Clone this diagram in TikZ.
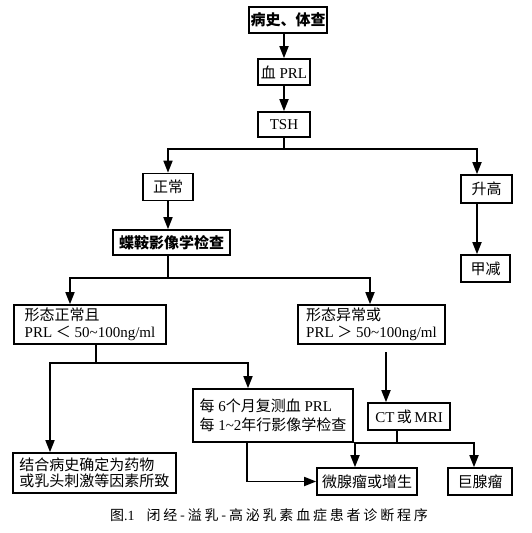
\documentclass[tikz,border=0pt]{standalone}
\usepackage{fontspec}
\setmainfont{Liberation Serif}
\newfontfamily\cjk{Noto Sans CJK SC}
\newfontfamily\cjkcap{Noto Sans CJK SC}[LetterSpace=20]
\usetikzlibrary{arrows.meta}

\newcommand{\zh}[1]{{\cjk #1}}

\tikzset{
  box/.style={draw, line width=1.7pt, inner sep=0pt, align=left,
    font=\fontsize{15}{16.5}\selectfont},
  boldbox/.style={box, font=\fontsize{15}{17}\selectfont\cjk\bfseries},
  ln/.style={line width=1.7pt},
  arr/.style={ln, -{Triangle[length=12pt,width=9pt]}}
}

\begin{document}
\begin{tikzpicture}[x=1pt, y=-1pt]
  \useasboundingbox (0,0) rectangle (531,533);
  % boxes
  \node[boldbox, minimum width=78pt, minimum height=26pt] (hist) at (288,20) {病史、体查};
  \node[box, minimum width=52pt, minimum height=26pt] (prl) at (284,72) {\zh{血} PRL};
  \node[box, minimum width=52pt, minimum height=25pt] (tsh) at (284,124.5) {TSH};
  \node[box, minimum width=50pt, minimum height=27pt] (norm) at (168,187) {\zh{正常}};
  \node[box, minimum width=51pt, minimum height=28pt] (high) at (486.5,189) {\zh{升高}};
  \node[box, minimum width=49pt, minimum height=27pt] (hypo) at (485.5,268.5) {\zh{甲减}};
  \node[boldbox, minimum width=117pt, minimum height=25pt] (sella) at (171.5,242.5) {蝶鞍影像学检查};
  \node[box, minimum width=152pt, minimum height=39pt] (morphn) at (90,324.5) {\zh{形态正常且}\\PRL \zh{＜} 50\textasciitilde 100ng/ml};
  \node[box, minimum width=147pt, minimum height=39pt] (morpha) at (371.5,324.5) {\zh{形态异常或}\\PRL \zh{＞} 50\textasciitilde 100ng/ml};
  \node[box, minimum width=163pt, minimum height=40pt] (drug) at (94.5,473) {\zh{结合病史确定为药物}\\\zh{或乳头刺激等因素所致}};
  \node[box, minimum width=160pt, minimum height=53pt, font=\fontsize{15}{18.5}\selectfont] (follow) at (273,415.5) {\zh{每} 6\zh{个月复测血} PRL\\\zh{每} 1\textasciitilde 2\zh{年行影像学检查}};
  \node[box, minimum width=82pt, minimum height=27pt] (ct) at (409,416.5) {CT\,\zh{或}\,MRI};
  \node[box, minimum width=100pt, minimum height=27pt] (micro) at (367,481.5) {\zh{微腺瘤或增生}};
  \node[box, minimum width=64pt, minimum height=27pt] (macro) at (480,481.5) {\zh{巨腺瘤}};
  % branch points
  \coordinate (tb) at (284,149);
  \coordinate (sb) at (168,278);
  \coordinate (nb) at (96,363);
  \coordinate (cg) at (386,352);
  \coordinate (cb) at (397,443);
  % connectors
  \draw[arr] (hist.south -| prl.north) -- (prl.north);
  \draw[arr] (prl) -- (tsh);
  \draw[ln] (tsh) -- (tb);
  \draw[arr] (tb) -| (norm);
  \draw[arr] (tb) -| ([xshift=-9.5pt]high.north);
  \draw[arr] (norm) -- (norm |- sella.north);
  \draw[arr] ([xshift=-9.5pt]high.south) -- ([xshift=-9.5pt]high.south |- hypo.north);
  \draw[ln] (sb |- sella.south) -- (sb);
  \draw[arr] (sb) -| ([xshift=-20pt]morphn.north);
  \draw[arr] (sb) -| ([xshift=-1.5pt]morpha.north);
  \draw[ln] (nb |- morphn.south) -- (nb);
  \draw[arr] (nb) -| ([xshift=-44.5pt]drug.north);
  \draw[arr] (nb) -| ([xshift=-25pt]follow.north);
  \draw[arr] ([xshift=-26pt]follow.south) |- (micro.west);
  \draw[arr] (cg) -- (cg |- ct.north);
  \draw[ln] (cb |- ct.south) -- (cb);
  \draw[arr] (cb) -| ([xshift=-12pt]micro.north);
  \draw[arr] (cb) -| ([xshift=-6pt]macro.north);
  % caption
  \node[font=\fontsize{14}{16}\selectfont] (cap) at (269,515) {\zh{图}.1\hspace{12pt}{\cjkcap 闭经-溢乳-高泌乳素血症患者诊断程序}};
\end{tikzpicture}
\end{document}
